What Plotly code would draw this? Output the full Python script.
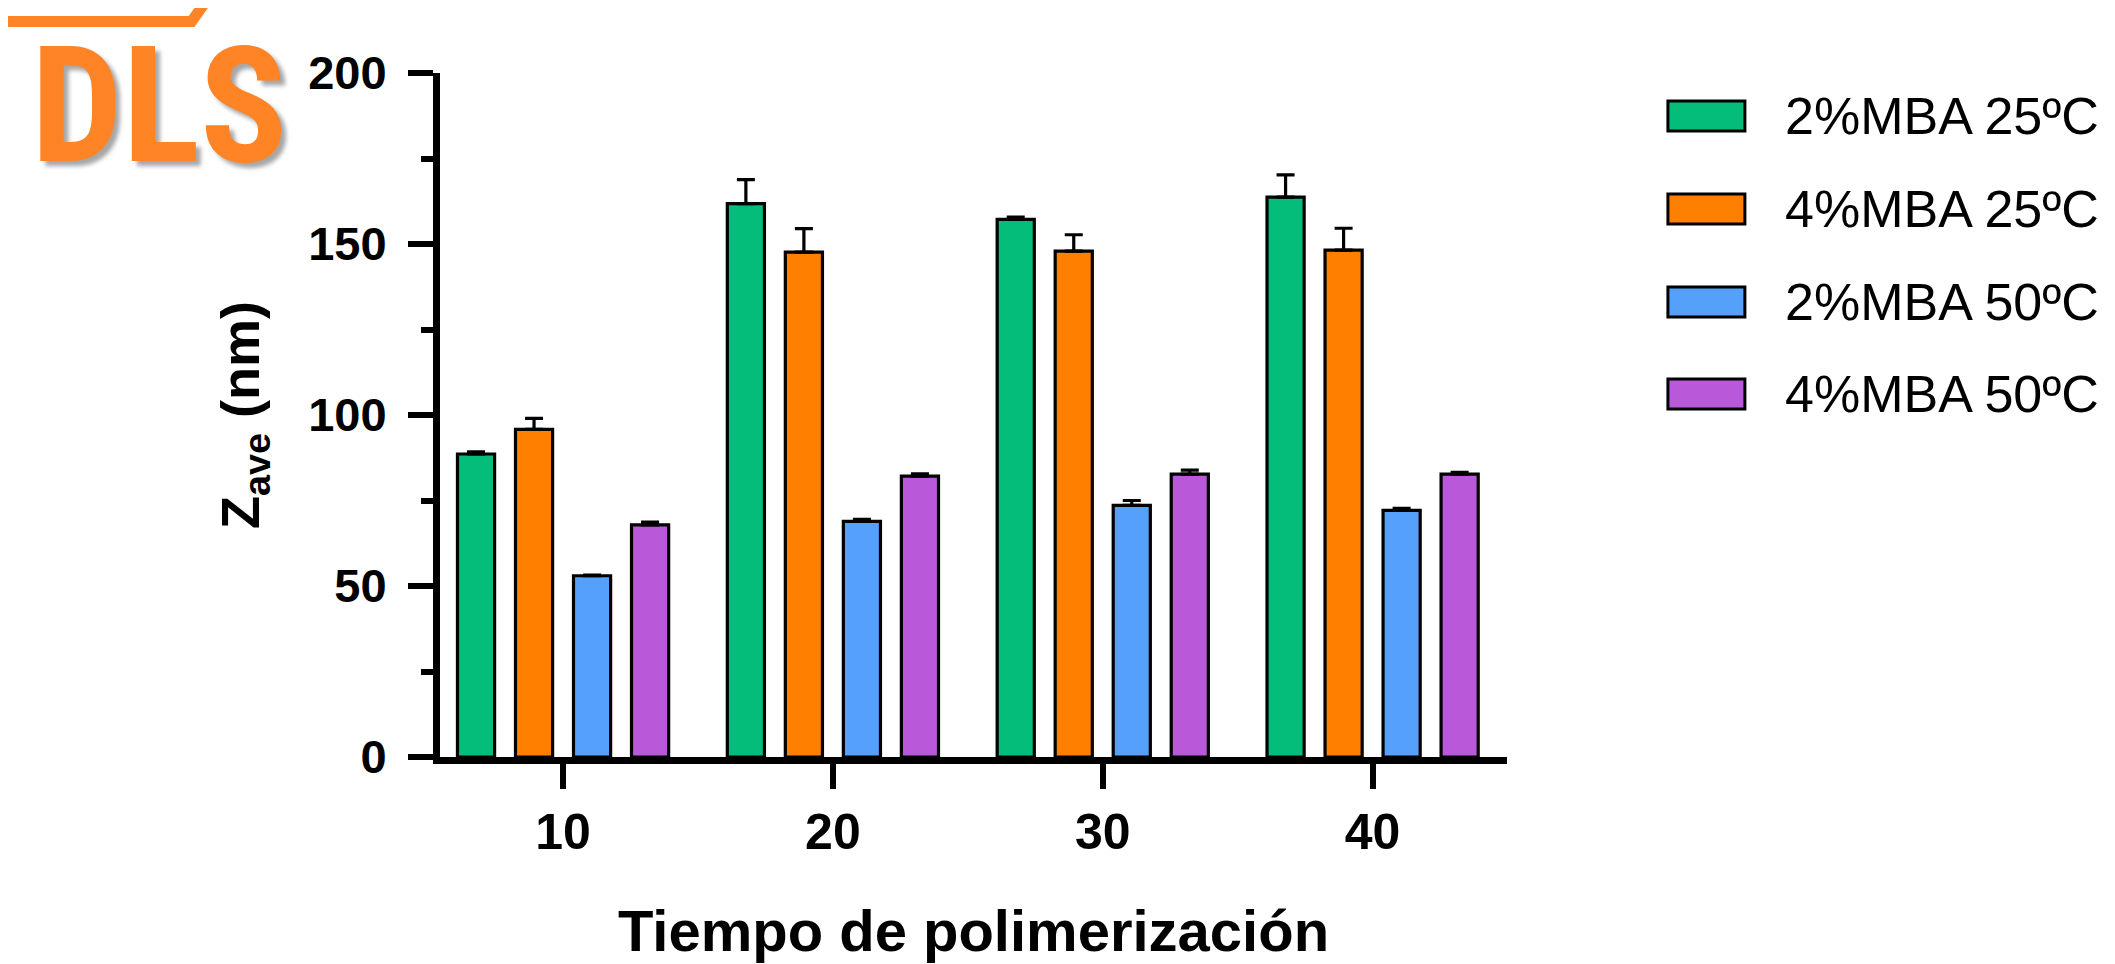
import plotly.graph_objects as go

# ---- data ----
times = [10, 20, 30, 40]
series_names = ["2%MBA 25ºC", "4%MBA 25ºC", "2%MBA 50ºC", "4%MBA 50ºC"]
zave_2mba_25 = [88.6, 161.8, 157.2, 163.7]
zave_4mba_25 = [95.8, 147.6, 147.9, 148.2]
zave_2mba_50 = [53.0, 68.9, 73.6, 72.1]
zave_4mba_50 = [67.9, 82.1, 82.7, 82.7]
err_2mba_25 = [0.6, 7.0, 0.7, 6.5]
err_4mba_25 = [3.2, 6.9, 4.8, 6.4]
err_2mba_50 = [0.2, 0.6, 1.4, 0.6]
err_4mba_50 = [0.8, 0.7, 1.2, 0.5]
y_ticks = [0, 50, 100, 150, 200]
colors = ["#05BD7A", "#FF8000", "#55A0FB", "#B958D9"]

values = [zave_2mba_25, zave_4mba_25, zave_2mba_50, zave_4mba_50]
errors = [err_2mba_25, err_4mba_25, err_2mba_50, err_4mba_50]

W, H = 2115, 964
OFF = 8  # default page margin of the html body
L, R, T, B = 439.5, 1507, 73, 757  # plot area in screen px
FONT = "Liberation Sans, Arial, sans-serif"


def px_x(p):
    return (p - L) / (R - L)


def px_y(p):
    return (B - p) / (B - T)


fig = go.Figure()
for name, vals, errs, col in zip(series_names, values, errors, colors):
    fig.add_trace(go.Bar(
        x=times, y=vals, name=name,
        marker=dict(color=col, line=dict(color="black", width=3.2)),
        error_y=dict(type="data", array=errs, arrayminus=[0] * len(errs),
                     symmetric=False, color="black", thickness=3.2, width=9),
        showlegend=False,
    ))

# custom legend (large swatches like the reference)
leg_y = [116, 209, 302, 394]
shapes = []
annotations = []
for name, col, cy in zip(series_names, colors, leg_y):
    shapes.append(dict(type="rect", xref="paper", yref="paper",
                       x0=px_x(1668), x1=px_x(1745), y0=px_y(cy + 15), y1=px_y(cy - 15),
                       fillcolor=col, line=dict(color="black", width=3)))
    annotations.append(dict(xref="paper", yref="paper", x=px_x(1783), y=px_y(cy),
                            xanchor="left", yanchor="middle", showarrow=False,
                            text=name, font=dict(family=FONT, size=52, color="black")))

# DLS logo
shapes.append(dict(type="path", xref="paper", yref="paper",
                   path=f"M {px_x(-10)},{px_y(21.5)} L {px_x(191)},{px_y(21.5)} L {px_x(209)},{px_y(-4)}",
                   line=dict(color="#FF8426", width=11)))
logo_font = "Roboto Condensed, Open Sans Condensed, Liberation Sans Narrow, DejaVu Sans Condensed, sans-serif"
annotations.append(dict(xref="paper", yref="paper", x=px_x(28), y=px_y(106),
                        xanchor="left", yanchor="middle", showarrow=False,
                        text="<b>DLS</b>",
                        font=dict(family=logo_font, size=162, color="#FF8426",
                                  shadow="5px 5px 4px rgba(0,0,0,0.35)")))

fig.update_layout(
    width=W, height=H,
    margin=dict(l=L - OFF, r=W - (R - OFF), t=T - OFF, b=H - (B - OFF), autoexpand=False),
    paper_bgcolor="white", plot_bgcolor="white",
    barmode="group", bargap=0.14, bargroupgap=0.36,
    showlegend=False,
    shapes=shapes, annotations=annotations,
    font=dict(family=FONT, color="black"),
)
fig.update_xaxes(
    range=[5.44, 44.98], tickvals=times, ticktext=[str(t) for t in times],
    showline=True, linecolor="black", linewidth=7,
    ticks="outside", ticklen=25, tickwidth=6, tickcolor="black",
    showgrid=False, zeroline=False,
    tickfont=dict(family=FONT, size=50, color="black", weight="bold"),
    title=dict(text="<b>Tiempo de polimerización</b>", standoff=54,
               font=dict(family=FONT, size=58, color="black")),
    automargin=False,
)
fig.update_yaxes(
    range=[0, 200], tickvals=y_ticks, ticktext=[str(v) for v in y_ticks],
    showline=True, linecolor="black", linewidth=7,
    ticks="outside", ticklen=25, tickwidth=6, tickcolor="black",
    minor=dict(dtick=25, ticks="outside", ticklen=12, tickwidth=6, tickcolor="black", showgrid=False),
    showgrid=False, zeroline=False,
    tickfont=dict(family=FONT, size=47, color="black", weight="bold"),
    ticklabelstandoff=12,
    title=dict(text="<b>Z<sub>ave</sub> (nm)</b>", standoff=34,
               font=dict(family=FONT, size=54, color="black")),
    automargin=False,
)

fig.write_html("out.html")
